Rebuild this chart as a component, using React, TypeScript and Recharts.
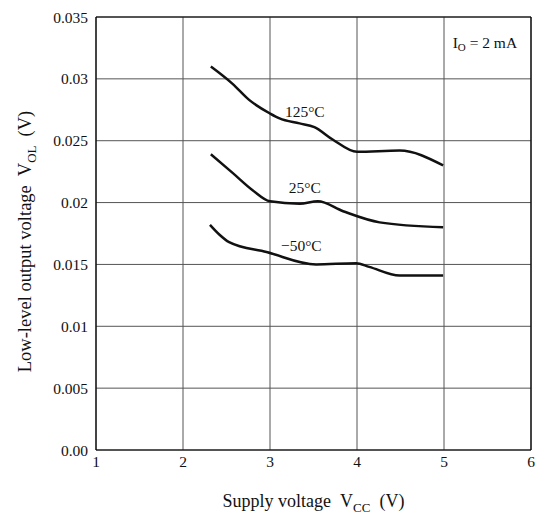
import { LineChart, Line, XAxis, YAxis, CartesianGrid, ReferenceDot, ReferenceLine } from 'recharts';

const FONT = '"Liberation Serif", "Times New Roman", serif';

const xTicks = [1, 2, 3, 4, 5, 6];
const yTicks = [0, 0.005, 0.01, 0.015, 0.02, 0.025, 0.03, 0.035];
const yTickLabels = ['0.00', '0.005', '0.01', '0.015', '0.02', '0.025', '0.03', '0.035'];

// 125°C
const vcc125 = [2.32, 2.57, 2.76, 3.0, 3.11, 3.34, 3.51, 3.72, 4.0, 4.49, 4.99];
const vol125 = [0.031, 0.0296, 0.0283, 0.0272, 0.0268, 0.0264, 0.0261, 0.0251, 0.0241, 0.0242, 0.023];

// 25°C
const vcc25 = [2.32, 2.57, 2.8, 3.0, 3.34, 3.55, 3.84, 4.26, 4.99];
const vol25 = [0.0239, 0.0224, 0.021, 0.0201, 0.0199, 0.0201, 0.0193, 0.0184, 0.018];

// -50°C
const vccM50 = [2.31, 2.42, 2.53, 2.96, 3.53, 3.99, 4.14, 4.49, 4.99];
const volM50 = [0.0182, 0.0174, 0.0168, 0.016, 0.015, 0.0151, 0.0148, 0.0141, 0.0141];

const toPoints = (xs: number[], ys: number[]) => xs.map((x, i) => ({ vcc: x, vol: ys[i] }));

const curves = [
  { name: '125°C', data: toPoints(vcc125, vol125), labelAt: [3.4, 0.0274] },
  { name: '25°C', data: toPoints(vcc25, vol25), labelAt: [3.4, 0.0212] },
  { name: '\u221250°C', data: toPoints(vccM50, volM50), labelAt: [3.36, 0.0165] },
];

const textStyle = { fontFamily: FONT, fill: '#111' };

function XTitle(props: any) {
  const vb = props.viewBox || { x: 96, width: 435 };
  return (
    <text x={vb.x + vb.width / 2} y={507} textAnchor="middle" fontSize={18} style={textStyle}>
      Supply voltage<tspan dx={9}>V</tspan>
      <tspan dy={5} fontSize={13}>CC</tspan>
      <tspan dy={-5} dx={9}>(V)</tspan>
    </text>
  );
}

function YTitle(props: any) {
  const vb = props.viewBox || { y: 17, height: 433 };
  const cy = vb.y + vb.height / 2 + 8;
  return (
    <text x={0} y={0} transform={`translate(31, ${cy}) rotate(-90)`} textAnchor="middle" fontSize={18.5} style={textStyle}>
      Low-level output voltage<tspan dx={9}>V</tspan>
      <tspan dy={5} fontSize={13}>OL</tspan>
      <tspan dy={-5} dx={9}>(V)</tspan>
    </text>
  );
}

function IoLabel(props: any) {
  const vb = props.viewBox;
  const cx = vb.x + (vb.width || 0) / 2;
  const cy = vb.y + (vb.height || 0) / 2;
  return (
    <text x={cx} y={cy + 5} textAnchor="middle" fontSize={15.5} style={textStyle}>
      I<tspan dy={3} fontSize={11}>O</tspan>
      <tspan dy={-3}> = 2 mA</tspan>
    </text>
  );
}

export default function App() {
  return (
    <div style={{ position: 'absolute', left: 0, top: 0, background: '#fff' }}>
      <LineChart width={538} height={517} margin={{ top: 17, right: 7, bottom: 0, left: 0 }}>
        <CartesianGrid stroke="#555" strokeWidth={1} />
        <XAxis
          type="number"
          dataKey="vcc"
          domain={[1, 6]}
          ticks={xTicks}
          allowDataOverflow
          height={67}
          tickLine={false}
          tickMargin={0}
          axisLine={{ stroke: '#000', strokeWidth: 1.2 }}
          tick={{ fontSize: 15.5, fontFamily: FONT, fill: '#111' }}
          label={<XTitle />}
        />
        <YAxis
          type="number"
          dataKey="vol"
          domain={[0, 0.035]}
          ticks={yTicks}
          allowDataOverflow
          width={96}
          tickLine={false}
          axisLine={{ stroke: '#000', strokeWidth: 1.2 }}
          tick={{ fontSize: 15.5, fontFamily: FONT, fill: '#111' }}
          tickFormatter={(v: number) => yTickLabels[yTicks.indexOf(v)] ?? String(v)}
          label={<YTitle />}
        />
        <ReferenceLine y={0.035} stroke="#000" strokeWidth={1.2} />
        <ReferenceLine x={6} stroke="#000" strokeWidth={1.2} />
        {curves.map(c => (
          <Line
            key={c.name}
            data={c.data}
            dataKey="vol"
            type="monotone"
            stroke="#111"
            strokeWidth={2.5}
            dot={false}
            isAnimationActive={false}
          />
        ))}
        {curves.map(c => (
          <ReferenceDot
            key={'lbl' + c.name}
            x={c.labelAt[0]}
            y={c.labelAt[1]}
            r={0}
            fill="none"
            stroke="none"
            label={{ value: c.name, position: 'center', fontSize: 15.5, fontFamily: FONT, fill: '#111' }}
          />
        ))}
        <ReferenceDot x={5.47} y={0.0329} r={0} fill="none" stroke="none" label={<IoLabel />} />
      </LineChart>
    </div>
  );
}
